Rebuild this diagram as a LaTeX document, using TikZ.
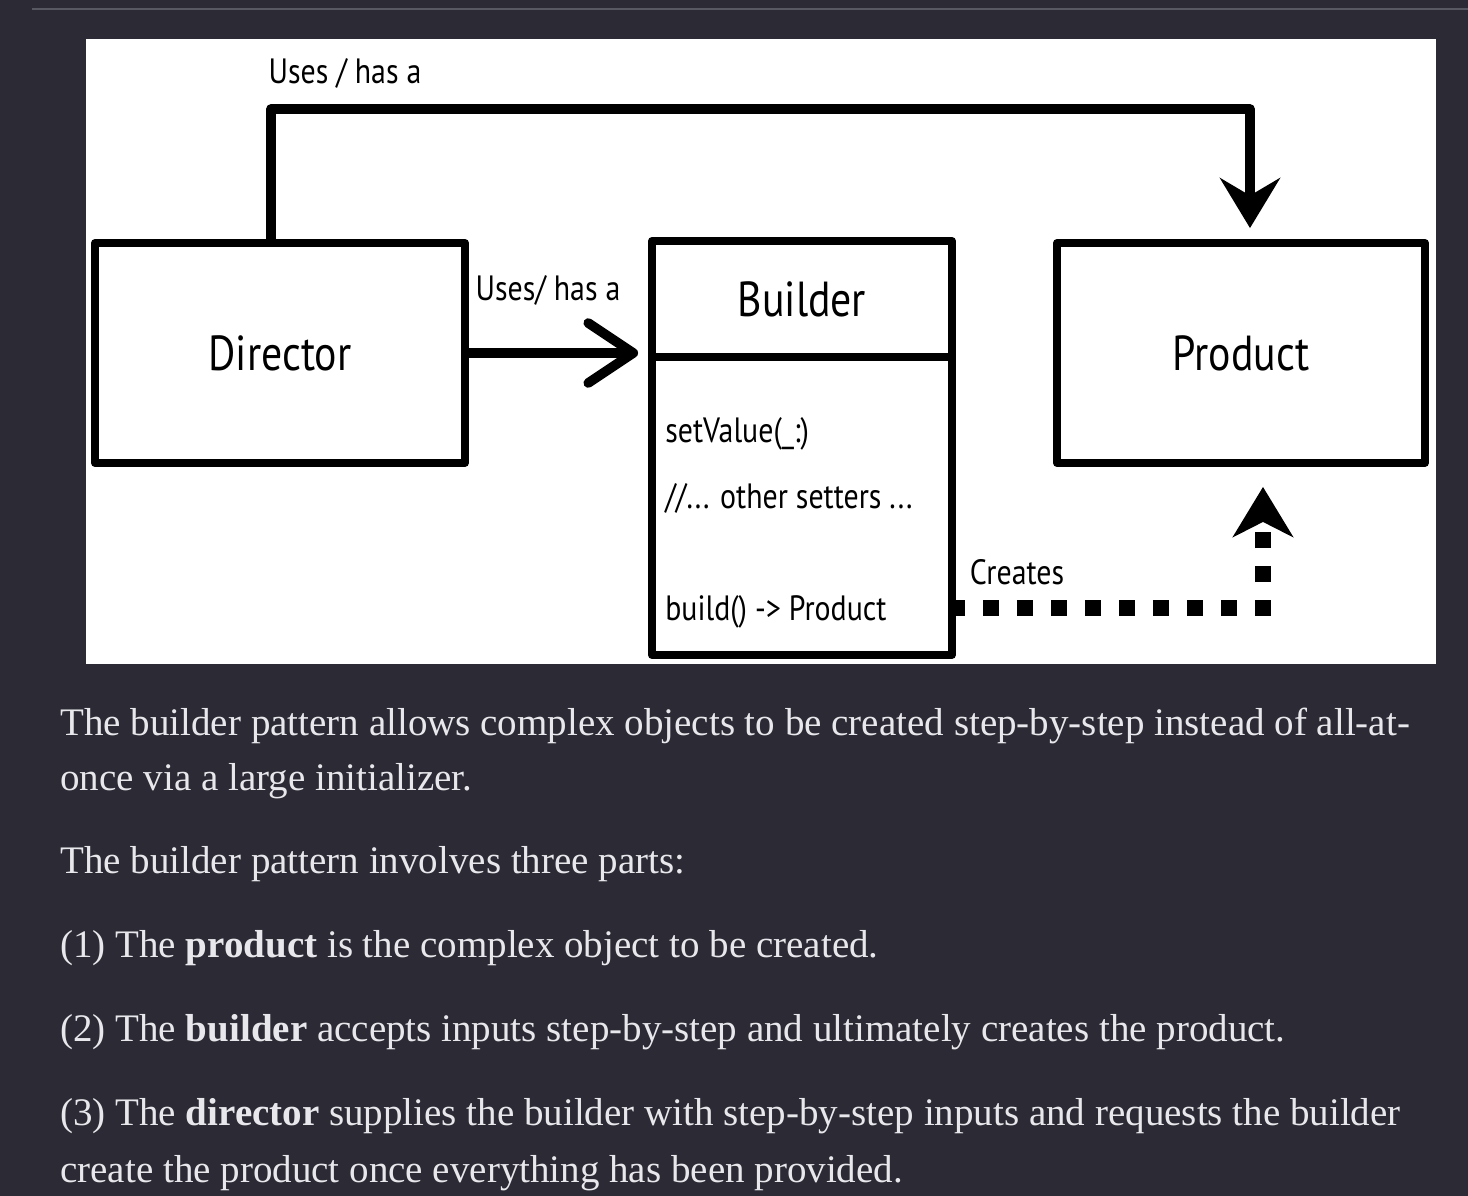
\documentclass[tikz,border=0pt]{standalone}
\usepackage{fontspec}
\setmainfont{Liberation Serif}
\newfontfamily\handfont[FakeStretch=0.85]{PT Sans}
\usetikzlibrary{arrows.meta,positioning,calc}
\definecolor{pagebg}{RGB}{43,42,53}
\definecolor{pagetext}{RGB}{232,232,236}
\definecolor{rulegray}{RGB}{88,88,98}

\begin{document}
\begin{tikzpicture}[x=0.02cm,y=-0.02cm,
  box/.style={draw=black,line width=4.5pt,line join=round,fill=white,inner sep=0pt},
  hand/.style={font=\handfont\fontsize{20}{24}\selectfont,text=black,inner sep=0pt},
  title/.style={font=\handfont\fontsize{28}{32}\selectfont,text=black},
  conn/.style={draw=black,line width=5.5pt,line join=round,line cap=round},
  dotted conn/.style={draw=black,line width=0.32cm,line join=miter,
    dash pattern=on 0.32cm off 0.36cm,dash phase=0.14cm},
  body/.style={font=\fontsize{22.2}{26}\selectfont,text=pagetext,anchor=base west,inner sep=0pt}]
\useasboundingbox[fill=pagebg] (0,0) rectangle (1468,1196);
\draw[rulegray,line width=1.2pt] (32,9) -- (1468,9);
\fill[white] (86,39) rectangle (1436,664);

\node[box,title,minimum width=7.4cm,minimum height=4.4cm] (dir) at (280,353) {Director};
\node[box,title,minimum width=6cm,minimum height=2.32cm] (bhead) at (802,299) {Builder};
\node[box,minimum width=6cm,minimum height=5.96cm] (bbody) at (802,506) {};
\node[box,title,minimum width=7.36cm,minimum height=4.4cm] (prod) at (1241,353) {Product};

\node[hand,anchor=base west] (m1) at (665,442) {setValue(\_:)};
\node[hand,anchor=base west] (m2) at (665,508) {//... other setters ...};
\node[hand,anchor=base west] (m3) at (665,620) {build() -> Product};

\node[hand] (usestop) at (345,73) {Uses / has a};
\node[hand] (usesmid) at (548,290) {Uses/ has a};
\node[hand] (creates) at (1017,572) {Creates};

\draw[conn,-{Stealth[length=1cm,width=1.2cm,inset=0.35cm]},shorten >=0.22cm]
  ([xshift=-0.18cm]dir.north) -- ++(0,-130) -| ([xshift=0.18cm]prod.north);
\draw[conn,-{Straight Barb[round,length=0.9cm,width=1.2cm]},shorten >=0.2cm]
  (dir.east) -- (dir.east -| bhead.west);
\draw[dotted conn,-{Stealth[length=1cm,width=1.2cm,inset=0.3cm]},shorten >=0.4cm]
  (bbody.east |- 0,608) -| ([xshift=0.44cm]prod.south);

\node[body] (p1a) at (60,735) {The builder pattern allows complex objects to be created step-by-step instead of all-at-};
\node[body] (p1b) at (60,790) {once via a large initializer.};
\node[body] (p2) at (60,873) {The builder pattern involves three parts:};
\node[body] (p3) at (60,957) {(1) The \textbf{product} is the complex object to be created.};
\node[body] (p4) at (60,1041) {(2) The \textbf{builder} accepts inputs step-by-step and ultimately creates the product.};
\node[body] (p5) at (60,1125) {(3) The \textbf{director} supplies the builder with step-by-step inputs and requests the builder};
\node[body] (p6) at (60,1182) {create the product once everything has been provided.};
\end{tikzpicture}
\end{document}
